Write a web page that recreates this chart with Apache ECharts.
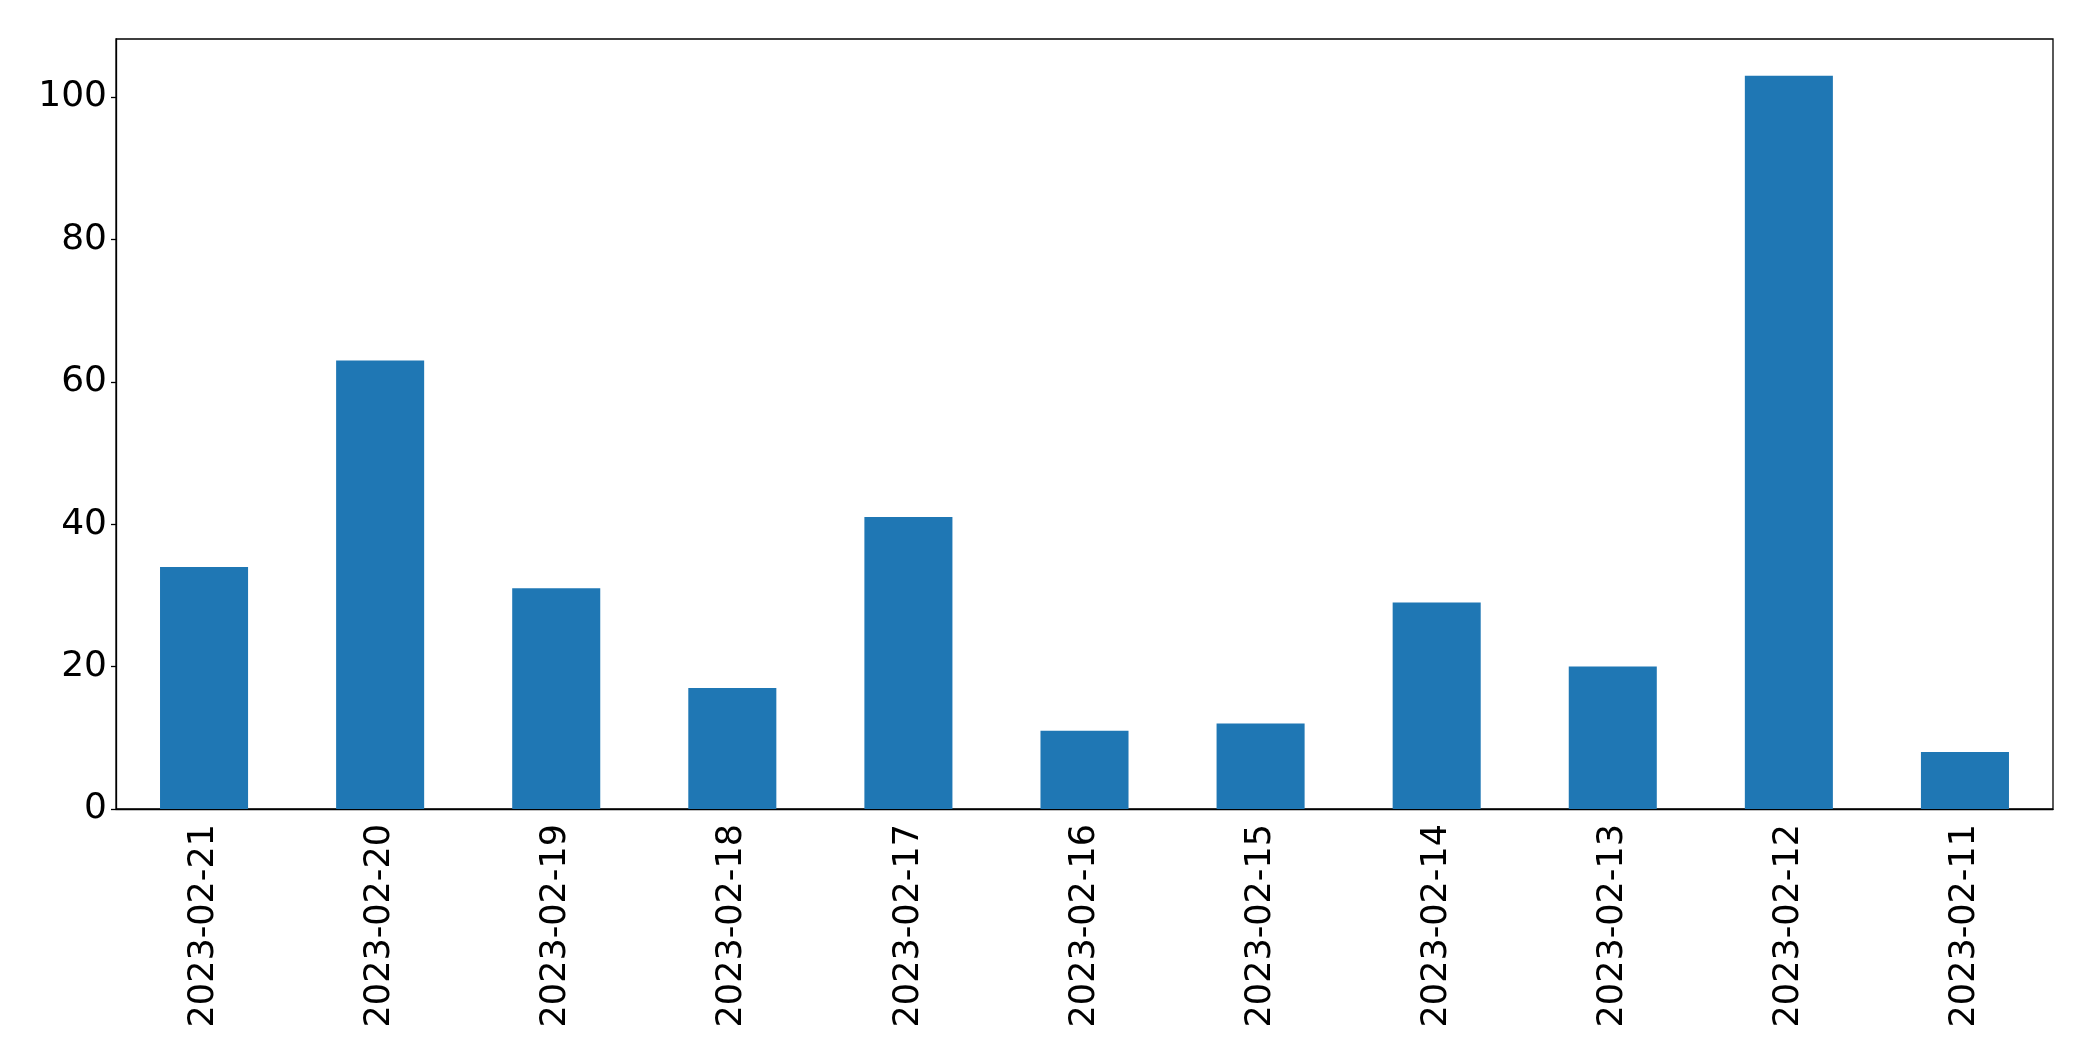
<!DOCTYPE html>
<html>
<head>
<meta charset="utf-8">
<script src="https://cdn.jsdelivr.net/npm/echarts@6/dist/echarts.min.js"></script>
<style>
  html, body { margin: 0; padding: 0; background: #fff; }
  #chart { width: 2093px; height: 1061px; }
</style>
</head>
<body>
<div id="chart"></div>
<script>
var dates = ['2023-02-21', '2023-02-20', '2023-02-19', '2023-02-18', '2023-02-17', '2023-02-16',
             '2023-02-15', '2023-02-14', '2023-02-13', '2023-02-12', '2023-02-11'];
var counts = [34, 63, 31, 17, 41, 11, 12, 29, 20, 103, 8];
var yTicks = [0, 20, 40, 60, 80, 100];

var dom = document.getElementById('chart');
var myChart = echarts.init(dom);
var font = 'DejaVu Sans';

var option = {
    animation: false,
    backgroundColor: '#fff',
    grid: {
        left: 116,
        top: 39,
        right: 40,
        bottom: 252,
        show: true,
        borderColor: '#000',
        borderWidth: 1.3
    },
    xAxis: {
        type: 'category',
        data: dates,
        boundaryGap: true,
        axisLine: { lineStyle: { color: '#000', width: 1.3 } },
        axisTick: { alignWithLabel: true, length: 5, lineStyle: { color: '#000', width: 1.3 } },
        axisLabel: {
            rotate: 90,
            margin: 15,
            color: '#000',
            fontSize: 35,
            fontFamily: font,
            interval: 0
        }
    },
    yAxis: {
        type: 'value',
        min: 0,
        max: 108.15,
        interval: 20,
        splitLine: { show: false },
        axisLine: { show: true, lineStyle: { color: '#000', width: 1.3 } },
        axisTick: { show: true, length: 5, customValues: yTicks, lineStyle: { color: '#000', width: 1.3 } },
        axisLabel: {
            margin: 9,
            color: '#000',
            fontSize: 36,
            fontFamily: font,
            customValues: yTicks
        }
    },
    series: [{
        type: 'bar',
        data: counts,
        barWidth: '50%',
        itemStyle: { color: '#1f77b4' }
    }]
};
myChart.setOption(option);
</script>
</body>
</html>
